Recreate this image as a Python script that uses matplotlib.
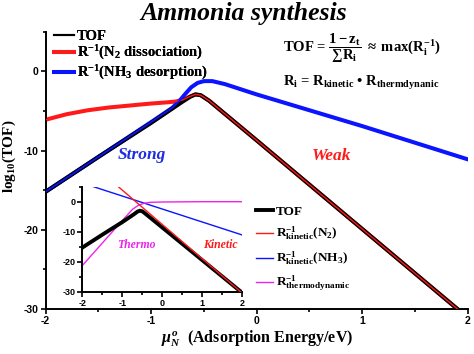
import matplotlib
matplotlib.use('Agg')
import matplotlib.pyplot as plt
from matplotlib.ticker import MultipleLocator

# main panel (x = adsorption energy / eV, y = log10)
tof_x = [-2.0, -1.5, -1.0, -0.8, -0.7, -0.63, -0.58, -0.53, -0.45, 0.0, 1.0, 2.0]
tof_y = [-15.2, -10.8, -6.5, -4.7, -3.8, -3.2, -2.9, -3.0, -3.7, -8.7, -19.9, -31.1]

n2_x = [-2.0, -1.8, -1.6, -1.4, -1.2, -1.0, -0.85, -0.77, -0.7, -0.63, -0.58, -0.53, -0.45, 0.0, 1.0, 2.0]
n2_y = [-6.1, -5.4, -4.9, -4.55, -4.3, -4.05, -3.9, -3.8, -3.6, -3.15, -2.9, -3.0, -3.7, -8.7, -19.9, -31.1]

nh3_x = [-2.0, -1.5, -1.0, -0.8, -0.73, -0.68, -0.62, -0.56, -0.5, -0.42, -0.3, 0.0, 1.0, 2.0]
nh3_y = [-15.2, -10.8, -6.4, -4.6, -3.7, -2.9, -2.0, -1.45, -1.22, -1.22, -1.6, -2.9, -6.9, -11.1]

# inset panel
in_tof_x = [-2.0, -1.5, -1.0, -0.7, -0.62, -0.56, -0.5, -0.45, 2.0]
in_tof_y = [-15.3, -11.0, -6.8, -4.1, -3.3, -3.0, -3.2, -3.7, -30.4]
kin_n2_x = [-1.1, 2.0]
kin_n2_y = [5.0, -30.5]
kin_nh3_x = [-1.72, 2.0]
kin_nh3_y = [5.0, -11.1]
thermo_x = [-2.0, -1.5, -1.0, -0.75, -0.6, -0.45, -0.3, 0.0, 1.0, 2.0]
thermo_y = [-21.3, -13.8, -6.3, -2.6, -1.2, -0.5, -0.2, -0.1, 0.0, 0.0]

x_ticks = [-2, -1, 0, 1, 2]
x_labels = ['-2', '-1', '0', '1', '2']
y_ticks = [0, -10, -20, -30]
y_labels = ['0', '-10', '-20', '-30']

plt.rcParams['font.family'] = 'Liberation Sans'
plt.rcParams['font.weight'] = 'bold'
plt.rcParams['mathtext.fontset'] = 'custom'
plt.rcParams['mathtext.rm'] = 'Liberation Serif:bold'
plt.rcParams['mathtext.it'] = 'Liberation Serif:italic:bold'
plt.rcParams['mathtext.bf'] = 'Liberation Serif:bold'
plt.rcParams['axes.linewidth'] = 1.4

serif = 'Liberation Serif'
RED = '#ff1a1a'
BLUE = '#0a14ff'
MAG = '#ee22ee'


def style_axes(ax, size):
	ax.spines['top'].set_visible(False)
	ax.spines['right'].set_visible(False)
	ax.set_xlim(-2, 2)
	ax.set_ylim(-30, 5)
	ax.set_xticks(x_ticks)
	ax.set_xticklabels(x_labels)
	ax.set_yticks(y_ticks)
	ax.set_yticklabels(y_labels)
	ax.xaxis.set_minor_locator(MultipleLocator(0.5))
	ax.yaxis.set_minor_locator(MultipleLocator(5))
	ax.tick_params(which='both', direction='out', width=1.2, labelsize=size, pad=1.5)
	ax.tick_params(which='major', length=3.5)
	ax.tick_params(which='minor', length=2)


fig = plt.figure(figsize=(4.74, 3.54), dpi=100)
ax = fig.add_axes([0.096, 0.127, 0.891, 0.783])

l_n2, = ax.plot(n2_x, n2_y, color=RED, lw=2.9, zorder=2)
l_nh3, = ax.plot(nh3_x, nh3_y, color=BLUE, lw=2.9, zorder=2)
l_tof, = ax.plot(tof_x, tof_y, color='black', lw=2.9, zorder=3)
ax.plot(n2_x, n2_y, color=RED, lw=1.0, zorder=4)
ax.plot(nh3_x, nh3_y, color=BLUE, lw=1.2, zorder=4)
style_axes(ax, 7.5)

ax.set_ylabel(r'log$_{10}$(TOF)', family=serif, fontsize=11, fontweight='bold')
ax.yaxis.set_label_coords(-0.066, 0.552)
ax.set_xlabel(r'$\mu_N^o$  (Adsorption Energy/eV)', family=serif, fontsize=11.5, fontweight='bold')
ax.xaxis.set_label_coords(0.5, -0.07)

leg = ax.legend([l_tof, l_n2, l_nh3],
                ['TOF', r'R$^{-1}$(N$_2$ dissociation)', r'R$^{-1}$(NH$_3$ desorption)'],
                loc='upper left', bbox_to_anchor=(0.0, 1.04), frameon=False,
                prop={'family': serif, 'weight': 'bold', 'size': 10.5},
                handlelength=1.35, handletextpad=0.2, labelspacing=0.1, borderpad=0.1)
leg.get_lines()[0].set_linewidth(1.5)
ax.add_artist(leg)

ax.text(-1.09, -10.6, 'Strong', color='#1e2ee0', family=serif, fontsize=12.5,
        fontweight='bold', style='italic', ha='center', va='center')
ax.text(0.71, -10.7, 'Weak', color=RED, family=serif, fontsize=12.5,
        fontweight='bold', style='italic', ha='center', va='center')

ax.text(0.25, 3.0, r'TOF = $\dfrac{\mathrm{1 - z_t}}{\sum\mathrm{R_i}}$ $\approx$ max(R$_\mathrm{i}^{-1}$)',
        family=serif, fontsize=10.5, fontweight='bold', ha='left', va='center')
ax.text(0.25, -1.4, r'R$_\mathrm{i}$ = R$_\mathrm{kinetic}$ • R$_\mathrm{thermdynanic}$',
        family=serif, fontsize=10.5, fontweight='bold', ha='left', va='center')

fig.text(0.515, 0.962, 'Ammonia synthesis', family=serif, fontsize=18.5,
         fontweight='bold', style='italic', ha='center', va='center')

# inset
ins = fig.add_axes([0.1736, 0.176, 0.3376, 0.2966])
ins.patch.set_alpha(0)
i_n2, = ins.plot(kin_n2_x, kin_n2_y, color=RED, lw=1.0, zorder=4)
i_nh3, = ins.plot(kin_nh3_x, kin_nh3_y, color=BLUE, lw=1.0, zorder=2)
i_th, = ins.plot(thermo_x, thermo_y, color=MAG, lw=1.0, zorder=2)
i_tof, = ins.plot(in_tof_x, in_tof_y, color='black', lw=2.8, zorder=3)
style_axes(ins, 6.5)
ins.text(-0.66, -14.5, 'Thermo', color=MAG, family=serif, fontsize=8.5,
         fontweight='bold', style='italic', ha='center', va='center')
ins.text(1.46, -14.5, 'Kinetic', color=RED, family=serif, fontsize=8.5,
         fontweight='bold', style='italic', ha='center', va='center')

fig.legend([i_tof, i_n2, i_nh3, i_th],
           ['TOF', r'R$^{-1}_\mathrm{kinetic}$(N$_2$)', r'R$^{-1}_\mathrm{kinetic}$(NH$_3$)',
            r'R$^{-1}_\mathrm{thermodynamic}$'],
           loc='upper left', bbox_to_anchor=(0.524, 0.442), frameon=False,
           prop={'family': serif, 'weight': 'bold', 'size': 9.5},
           handlelength=1.3, handletextpad=0.2, labelspacing=0.5, borderpad=0.1)

fig.savefig('out.png', dpi=100)
